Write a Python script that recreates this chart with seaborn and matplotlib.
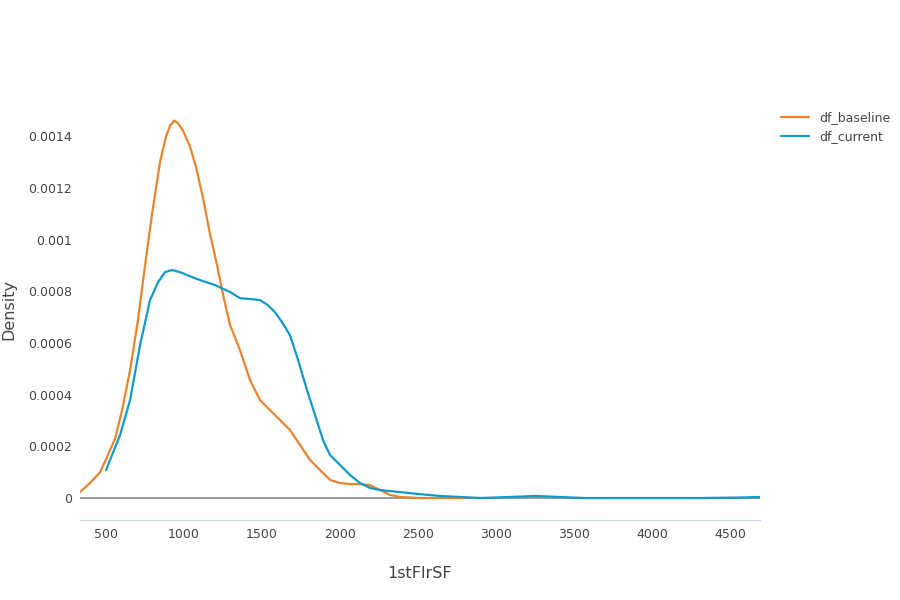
import matplotlib
matplotlib.use("Agg")
import matplotlib.pyplot as plt
import seaborn as sns
import pandas as pd

base_x = [333,397,462,500,558,603,654,705,750,795,846,885,910,936,962,994,1038,1077,1122,1167,1212,1256,1295,1359,1423,1487,1551,1615,1679,1744,1808,1872,1936,2000,2064,2128,2192,2256,2320,2385,2513,2897]
base_y = [0.000023,0.000058,0.0001,0.00015,0.00023,0.00034,0.000495,0.00069,0.0009,0.0011,0.0013,0.0014,0.00144,0.00146,0.00145,0.00142,0.00136,0.00128,0.00116,0.00102,0.0009,0.00077,0.000669,0.000572,0.000456,0.000379,0.00034,0.000302,0.000263,0.000205,0.000147,0.000108,0.00007,0.000058,0.000054,0.000054,0.00005,0.000031,0.000012,0.000004,0.0,0.0]
cur_x = [500,538,590,654,718,782,833,878,923,974,1038,1103,1199,1295,1359,1423,1487,1538,1583,1628,1679,1731,1788,1846,1891,1936,2000,2064,2128,2192,2256,2385,2513,2641,2769,2897,3090,3250,3410,3571,4308,4564,4692]
cur_y = [0.000108,0.000166,0.000244,0.000379,0.000592,0.000766,0.000835,0.000874,0.000882,0.000874,0.000858,0.000843,0.000824,0.000797,0.000773,0.00077,0.000766,0.000746,0.000719,0.000681,0.00063,0.000534,0.000418,0.000309,0.000224,0.000166,0.000128,0.000089,0.000058,0.000039,0.000031,0.000023,0.000015,0.000008,0.000004,0.0,0.000004,0.000008,0.000004,0.0,0.0,0.000002,0.000004]

df = pd.concat([
    pd.DataFrame({"x": base_x, "y": base_y, "s": "df_baseline"}),
    pd.DataFrame({"x": cur_x, "y": cur_y, "s": "df_current"}),
])

sns.set_style("white")
plt.rcParams['font.family'] = ['DejaVu Sans']
fig = plt.figure(figsize=(9, 6), dpi=100)
ax = fig.add_axes([80/900, 80/600, 680/900, 420/600])
sns.lineplot(data=df, x="x", y="y", hue="s", palette=["#e8842f", "#0f9ac8"],
             linewidth=1.6, ax=ax, sort=False, estimator=None)
ax.axhline(0, color="#888888", linewidth=1.2, zorder=0)
ax.set_xlim(333, 4692)
ax.set_ylim(-0.000085, 0.00154)
for s in ["top", "right", "left"]:
    ax.spines[s].set_visible(False)
ax.spines["bottom"].set_color("#c8d4e3")
ax.set_xticks([500,1000,1500,2000,2500,3000,3500,4000,4500])
ax.set_xticklabels(["500","1000","1500","2000","2500","3000","3500","4000","4500"])
yt = [0,0.0002,0.0004,0.0006,0.0008,0.001,0.0012,0.0014]
ax.set_yticks(yt)
ax.set_yticklabels(["0","0.0002","0.0004","0.0006","0.0008","0.001","0.0012","0.0014"])
ax.tick_params(axis="both", length=0, labelsize=9, colors="#444444", pad=6)
ax.set_xlabel("1stFlrSF", fontsize=11.5, color="#444444", labelpad=18)
ax.set_ylabel("Density", fontsize=11.5, color="#444444", labelpad=8)
ax.legend(title=None, loc="upper left", bbox_to_anchor=(1.015, 1.0), frameon=False,
          fontsize=9, labelcolor="#444444", handlelength=2.2, labelspacing=0.5)
fig.savefig("out.png", dpi=100)
